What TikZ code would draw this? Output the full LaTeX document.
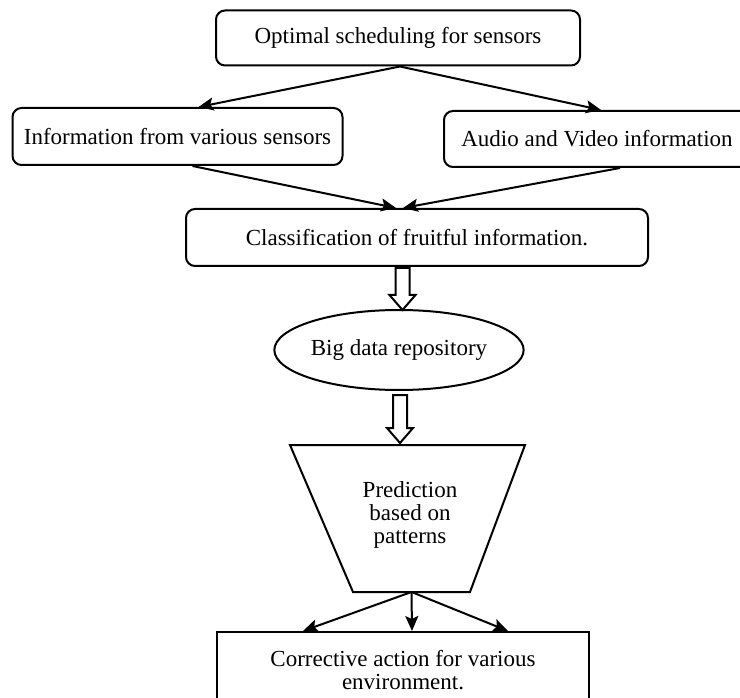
\documentclass[tikz,border=0pt]{standalone}
\usepackage{fontspec}
\setmainfont{Liberation Serif}
\usetikzlibrary{arrows.meta,calc,shapes.geometric}

\tikzset{
  box/.style={draw, line width=2pt, rounded corners=9pt, align=center, inner sep=0pt},
  plainbox/.style={draw, line width=2pt, align=center, inner sep=0pt},
  oval/.style={draw, line width=2pt, ellipse, inner sep=0pt},
  link/.style={line width=2pt, -{Stealth[length=15pt,width=13pt,inset=3pt]}},
  hollow/.style={draw, line width=2pt, fill=white, line join=miter},
  label text/.style={font=\fontsize{23}{23}\selectfont, align=center}
}

% downward outlined block arrow: centre x, top y, tip y
\newcommand\hollowarrow[3]{%
  \path[hollow] (#1-7,#2) -- (#1+7,#2) -- (#1+7,#3-15) -- (#1+13,#3-15)
    -- (#1,#3) -- (#1-13,#3-15) -- (#1-7,#3-15) -- cycle;}

\begin{document}
\begin{tikzpicture}[x=1pt,y=-1pt, label text]
\clip (0,0) rectangle (740,698);
\fill[white] (0,0) rectangle (740,698);

% sources
\node[box, minimum width=364pt, minimum height=55pt] (top) at (398,38)
  {Optimal scheduling for sensors};
\node[box, minimum width=330pt, minimum height=57pt] (info) at (177.5,136.5)
  {Information from various sensors};
\node[box, minimum width=306pt, minimum height=56pt] (av) at (597,139)
  {Audio and Video information};
\node[box, minimum width=462pt, minimum height=57pt] (cls) at (417,237.5)
  {Classification of fruitful information.};

% repository
\node[oval, minimum width=248pt, minimum height=80pt] (repo) at (399,350)
  {Big data repository};

% prediction funnel
\coordinate (tl) at (290,445);
\coordinate (tr) at (525,445);
\coordinate (br) at (470,592);
\coordinate (bl) at (353,592);
\draw[line width=2pt, line join=miter] (tl) -- (tr) -- (br) -- (bl) -- cycle;
\coordinate (pb) at ($(bl)!0.5!(br)$);
\node[align=center] (pred) at (410,515) {Prediction\\based on\\patterns};

% action
\node[plainbox, minimum width=372pt, minimum height=76pt] (act) at (403,670)
  {Corrective action for various\\environment.};

% connectors
\draw[link] ($(top.south)+(2,0)$) -- ($(info.north)+(21,0)$);
\draw[link] ($(top.south)+(2,0)$) -- ($(av.north)+(4,0)$);
\draw[link] ($(info.south)+(15,0)$) -- ($(cls.north)+(-21,0)$);
\draw[link] ($(av.south)+(23,0)$) -- ($(cls.north)+(-14,0)$);

\hollowarrow{402.5}{268}{310}
\hollowarrow{400}{395}{443}

\draw[link] (pb) -- ($(act.north)+(-100,0)$);
\draw[link] (pb) -- ($(act.north)+(9,0)$);
\draw[link] (pb) -- ($(act.north)+(105,0)$);
\end{tikzpicture}
\end{document}
